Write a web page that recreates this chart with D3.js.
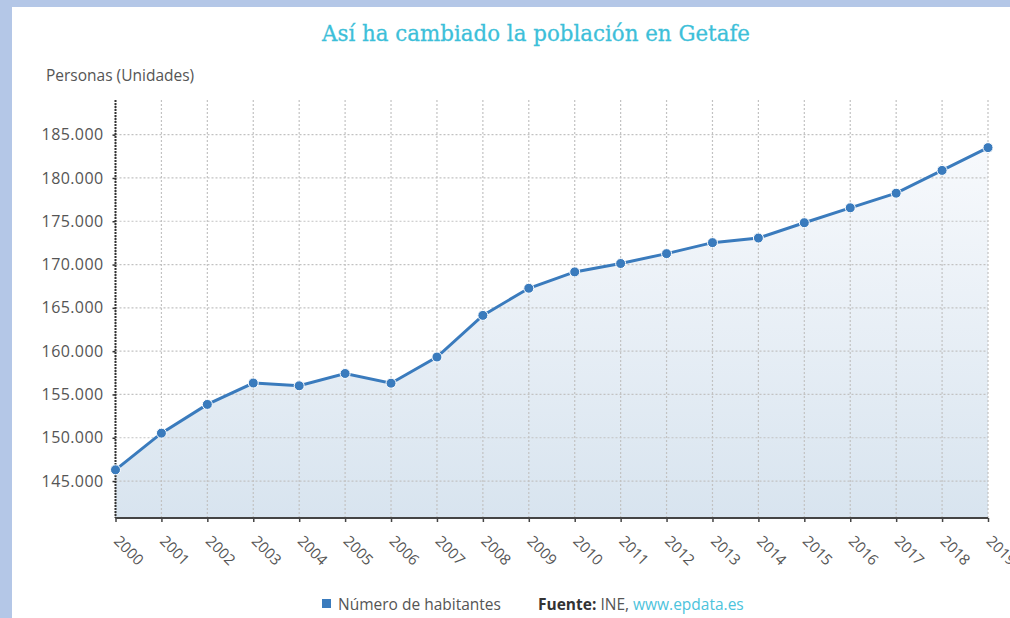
<!DOCTYPE html>
<html><head><meta charset="utf-8">
<script src="https://cdn.jsdelivr.net/npm/d3@7"></script>
<style>
html,body{margin:0;padding:0;background:#b4c7e7;}
svg{display:block;}
</style></head>
<body>
<svg id="chart" width="1010" height="618"></svg>
<script>
const years = ["2000","2001","2002","2003","2004","2005","2006","2007","2008","2009","2010","2011","2012","2013","2014","2015","2016","2017","2018","2019"];
const habitantes = [146300,150530,153850,156320,156000,157420,156300,159320,164130,167260,169150,170120,171260,172530,173060,174830,176550,178240,180870,183500];
const yTicks = [145000,150000,155000,160000,165000,170000,175000,180000,185000];
const yDomain = [140735,189000];
const title = "Así ha cambiado la población en Getafe";
const yTitle = "Personas (Unidades)";
const seriesName = "Número de habitantes";

const svg = d3.select("#chart");
const W = 1010, H = 618;
const L = 115.5, R = 988, T = 100, B = 518;
const FONT = "'Open Sans', sans-serif";

svg.append("rect").attr("x",0).attr("y",0).attr("width",W).attr("height",H).attr("fill","#b4c7e7");
svg.append("rect").attr("x",12).attr("y",7).attr("width",W-12).attr("height",H-7).attr("fill","#ffffff");

const x = d3.scalePoint().domain(years).range([L,R]);
const y = d3.scaleLinear().domain(yDomain).range([B,T]);

const defs = svg.append("defs");
const grad = defs.append("linearGradient").attr("id","areaGrad")
  .attr("gradientUnits","userSpaceOnUse").attr("x1",0).attr("y1",T).attr("x2",0).attr("y2",B);
grad.append("stop").attr("offset","0%").attr("stop-color","#fbfcfe");
grad.append("stop").attr("offset","100%").attr("stop-color","#d8e4ef");

// title
svg.append("text").attr("x",536).attr("y",41).attr("text-anchor","middle")
  .attr("font-family","'DejaVu Serif', serif").attr("font-size",23)
  .attr("fill","#3dbfd9").attr("stroke","#3dbfd9").attr("stroke-width",0.3)
  .attr("textLength",428).attr("lengthAdjust","spacingAndGlyphs")
  .text(title);

svg.append("text").attr("x",46).attr("y",81)
  .attr("font-family",FONT).attr("font-size",15.5)
  .attr("fill","#555").text(yTitle);

const data = years.map((yr,i)=>({yr, v:habitantes[i]}));

// area
const area = d3.area().x(d=>x(d.yr)).y0(B).y1(d=>y(d.v));
svg.append("path").datum(data).attr("d",area).attr("fill","url(#areaGrad)");

// grid
const grid = svg.append("g");
grid.selectAll("line.h").data(yTicks).join("line")
  .attr("x1",L).attr("x2",R).attr("y1",d=>y(d)).attr("y2",d=>y(d))
  .attr("stroke","#c2c2c2").attr("stroke-width",1.2).attr("stroke-dasharray","2,2");
grid.selectAll("line.v").data(years).join("line")
  .attr("x1",d=>x(d)).attr("x2",d=>x(d)).attr("y1",T).attr("y2",B)
  .attr("stroke","#c2c2c2").attr("stroke-width",1.2).attr("stroke-dasharray","2,2");

// y axis
const yAxis = d3.axisLeft(y).tickValues(yTicks).tickSize(3).tickPadding(9)
  .tickFormat(d=>d3.format(",")(d).replace(/,/g,"."));
const gy = svg.append("g").attr("transform",`translate(${L},0)`).call(yAxis);
gy.select(".domain").remove();
gy.selectAll(".tick line").attr("stroke","#333").attr("stroke-width",1.5);
gy.selectAll(".tick text").attr("font-family",FONT).attr("font-size",16)
  .attr("letter-spacing",0.4).attr("fill","#555");
svg.append("line").attr("x1",L).attr("x2",L).attr("y1",T).attr("y2",B)
  .attr("stroke","#333").attr("stroke-width",2).attr("stroke-dasharray","2,1");

// x axis
const xAxis = d3.axisBottom(x).tickSize(4).tickPadding(0);
const gx = svg.append("g").attr("transform",`translate(0,${B})`).call(xAxis);
gx.select(".domain").attr("stroke","#444").attr("stroke-width",2).attr("d",`M${L},0H${R}`);
gx.selectAll(".tick line").attr("stroke","#444").attr("stroke-width",1.5);
gx.selectAll(".tick text")
  .attr("font-family",FONT).attr("font-size",15).attr("fill","#555")
  .attr("text-anchor","start").attr("dy",null).attr("y",0)
  .attr("transform","translate(-3,24) rotate(45)");

// line
const line = d3.line().x(d=>x(d.yr)).y(d=>y(d.v));
svg.append("path").datum(data).attr("d",line).attr("fill","none")
  .attr("stroke","#3a7bbd").attr("stroke-width",3);
svg.selectAll("circle.pt").data(data).join("circle")
  .attr("cx",d=>x(d.yr)).attr("cy",d=>y(d.v)).attr("r",5)
  .attr("fill","#3a7bbd").attr("stroke","#ffffff").attr("stroke-width",1);

// legend
svg.append("rect").attr("x",322).attr("y",599).attr("width",9).attr("height",9).attr("fill","#3a7bbd");
svg.append("text").attr("x",338).attr("y",610)
  .attr("font-family",FONT).attr("font-size",15.5).attr("fill","#555").text(seriesName);
const src = svg.append("text").attr("x",538).attr("y",610)
  .attr("font-family",FONT).attr("font-size",15.5);
src.append("tspan").attr("font-weight","bold").attr("fill","#333").text("Fuente:");
src.append("tspan").attr("fill","#555").text(" INE, ");
src.append("tspan").attr("fill","#4cc3dc").text("www.epdata.es");
</script>
</body></html>
